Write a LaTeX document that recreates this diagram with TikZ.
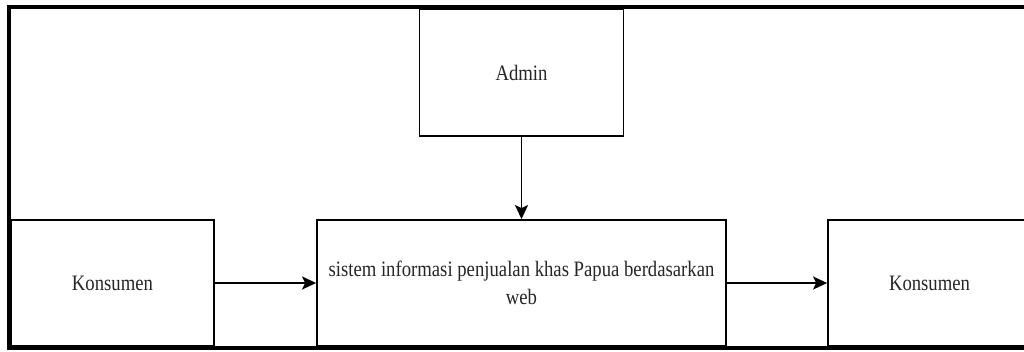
\documentclass[tikz,border=0pt]{standalone}
\usepackage{fontspec}
\setmainfont[FakeStretch=0.85]{Liberation Serif}
\usetikzlibrary{arrows.meta}
\begin{document}
\begin{tikzpicture}[x=1pt,y=-1pt,
  box/.style={draw=black, line width=1.8pt, fill=white, inner sep=0pt, align=center,
    font=\fontsize{22}{28.5}\selectfont, text=black!85},
  flow/.style={draw=black, line width=1.8pt, -{Stealth[length=14pt,width=13pt,inset=3pt]}}]
\useasboundingbox (0,0) rectangle (1024,351);
\fill[white] (0,0) rectangle (1024,351);
% outer frame
\draw[line width=3.6pt] (1030,6.8) -- (9,6.8) -- (9,348) -- (1030,348);
% nodes
\node[box, minimum width=203pt, minimum height=126pt] (k1) at (112.5,283) {Konsumen};
\node[box, minimum width=409pt, minimum height=126pt] (sys) at (521.5,283)
  {sistem informasi penjualan khas Papua berdasarkan\\web};
\node[box, minimum width=203pt, minimum height=126pt] (k2) at (929.5,283) {Konsumen};
\node[box, minimum width=204pt, minimum height=127pt] (adm) at (521.5,72.5) {Admin};
% redraw frame lines over boxes at bottom/left
\draw[line width=3.6pt] (9,6.8) -- (9,348) -- (1030,348);
% connectors
\draw[flow] (adm.south) -- (sys.north);
\draw[flow] (k1.east) -- (sys.west);
\draw[flow] (sys.east) -- (k2.west);
\end{tikzpicture}
\end{document}
